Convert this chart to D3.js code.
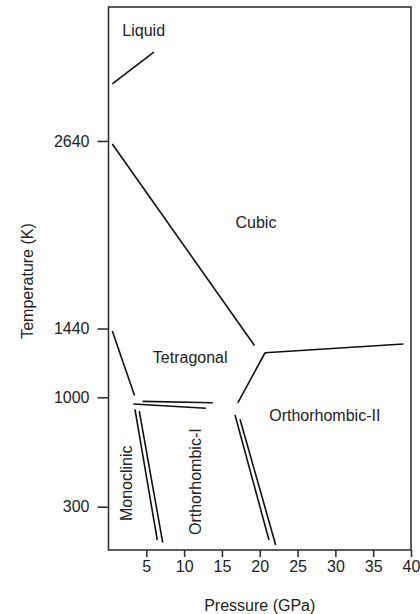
<!DOCTYPE html>
<html>
<head>
<meta charset="utf-8">
<script src="https://cdn.jsdelivr.net/npm/d3@7"></script>
<style>
    body { margin: 0; background: #fff; }
    svg { display: block; font-family: "Liberation Sans", Arial, Helvetica, sans-serif; }
</style>
</head>
<body>
<svg id="chart" width="420" height="614"></svg>
<script>
// pressure / temperature values
const pressureTicks = [5, 10, 15, 20, 25, 30, 35, 40];
const temperatureTicks = [300, 1000, 1440, 2640];

// each boundary is a pair of [pressure GPa, temperature K] points
const liquidBoundary = [[[0.5, 3005], [6.0, 3208]]];
const cubicBoundaries = [
    [[0.5, 2621], [19.3, 1331]],
    [[20.7, 1285], [39.0, 1341]],
    [[20.7, 1285], [17.1, 965]]
];
const tetragonalBoundaries = [
    [[0.5, 1424], [3.44, 1011]],
    [[3.28, 957], [12.89, 930]],
    [[4.52, 974], [13.78, 965]]
];
const monoclinicBoundaries = [
    [[3.5, 923], [6.45, 87]],
    [[4.07, 912], [7.17, 70]]
];
const orthoBoundaries = [
    [[16.73, 887], [21.22, 87]],
    [[17.39, 859], [22.11, 55]]
];

const phaseNames = ["Liquid", "Cubic", "Tetragonal", "Orthorhombic-II", "Monoclinic", "Orthorhombic-I"];
const phasePressure = [4.65, 19.5, 10.8, 28.6, 3.17, 12.23];
const phaseTemperature = [3312, 2083, 1219, 848, 450, 460];
const verticalPhases = ["Monoclinic", "Orthorhombic-I"];

const paper = d3.select("#chart");
const plot = {left: 108.5, right: 411, top: 7, bottom: 550};

const x = d3.scaleLinear().domain([0, 40]).range([plot.left, plot.right]);
const y = d3.scaleLinear().domain([23, 3497]).range([plot.bottom, plot.top]);

drawAxes();
drawBoundaries();
drawLabels();

function drawAxes() {
    const yAxis = d3.axisLeft(y)
        .tickValues(temperatureTicks)
        .tickFormat(d3.format("d"))
        .tickSize(11)
        .tickPadding(8);
    const gy = paper.append("g")
        .attr("transform", `translate(${plot.left},0)`)
        .call(yAxis);

    const xAxis = d3.axisBottom(x)
        .tickValues(pressureTicks)
        .tickFormat(d3.format("d"))
        .tickSize(7)
        .tickPadding(4);
    const gx = paper.append("g")
        .attr("transform", `translate(0,${plot.bottom})`)
        .call(xAxis);

    [gx, gy].forEach(g => {
        g.select(".domain").remove();
        g.selectAll(".tick line").attr("stroke", "#333").attr("stroke-width", 1.6);
        g.selectAll(".tick text")
            .attr("fill", "#222")
            .style("font-size", "16px")
            .style("font-family", "inherit");
    });

    //  frame around the plot
    paper.append("rect")
        .attr("x", plot.left)
        .attr("y", plot.top)
        .attr("width", plot.right - plot.left)
        .attr("height", plot.bottom - plot.top)
        .attr("fill", "none")
        .attr("stroke", "#333")
        .attr("stroke-width", 1.6);

    paper.append("text")
        .attr("x", (plot.left + plot.right) / 2)
        .attr("y", 611)
        .attr("text-anchor", "middle")
        .attr("fill", "#222")
        .style("font-size", "16px")
        .text("Pressure (GPa)");

    paper.append("text")
        .attr("transform", "translate(33,281) rotate(-90)")
        .attr("text-anchor", "middle")
        .attr("fill", "#222")
        .style("font-size", "16px")
        .text("Temperature (K)");
}

function drawBoundaries() {
    const segments = [].concat(liquidBoundary, cubicBoundaries, tetragonalBoundaries,
        monoclinicBoundaries, orthoBoundaries);

    paper.selectAll(".boundary")
        .data(segments)
        .join("line")
        .attr("class", "boundary")
        .attr("x1", s => x(s[0][0]))
        .attr("y1", s => y(s[0][1]))
        .attr("x2", s => x(s[1][0]))
        .attr("y2", s => y(s[1][1]))
        .attr("stroke", "#111")
        .attr("stroke-width", 1.6);
}

function drawLabels() {
    const labels = phaseNames.map((name, i) => ({
        name, p: phasePressure[i], t: phaseTemperature[i]
    }));

    paper.selectAll(".phase")
        .data(labels)
        .join("text")
        .attr("class", "phase")
        .attr("text-anchor", "middle")
        .attr("fill", "#222")
        .style("font-size", "16px")
        .attr("transform", d => {
            const rot = verticalPhases.includes(d.name) ? " rotate(-90)" : "";
            return `translate(${x(d.p)},${y(d.t)})${rot}`;
        })
        .text(d => d.name);
}
</script>
</body>
</html>
